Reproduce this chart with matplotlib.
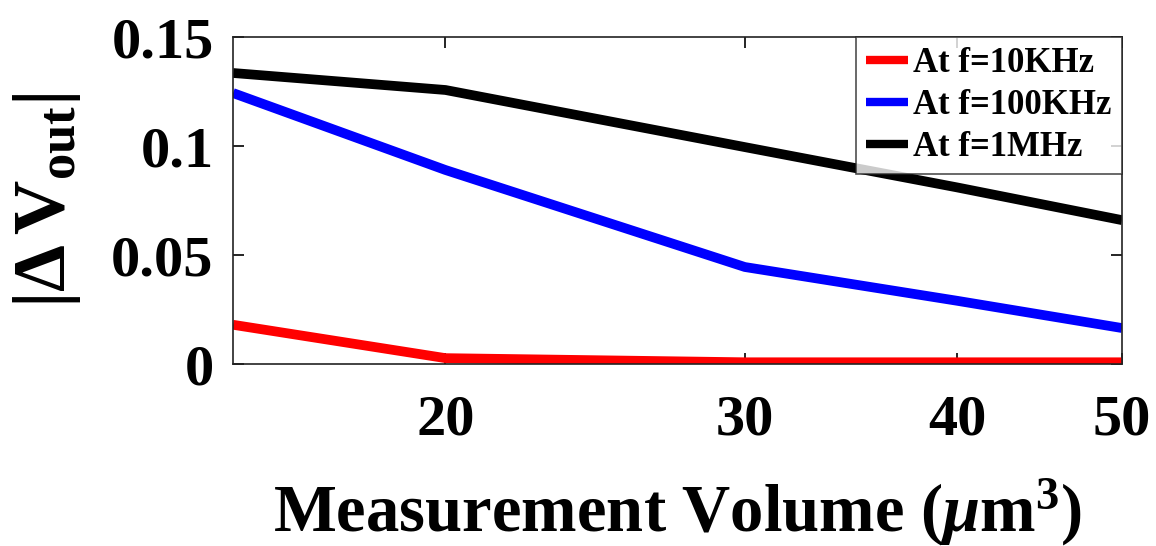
import numpy as np
import matplotlib
matplotlib.use("Agg")
import matplotlib.pyplot as plt
from matplotlib.ticker import FixedLocator, FixedFormatter, NullLocator

plt.rcParams['font.family'] = ['Liberation Serif', 'DejaVu Serif']
plt.rcParams['font.weight'] = 'bold'
plt.rcParams['axes.labelweight'] = 'bold'
plt.rcParams['mathtext.fontset'] = 'custom'
plt.rcParams['mathtext.rm'] = 'Liberation Serif:bold'
plt.rcParams['mathtext.it'] = 'Liberation Serif:italic:bold'
plt.rcParams['mathtext.bf'] = 'Liberation Serif:bold'

# data
volume = [15, 20, 30, 40, 50]
dv_10k = [0.018, 0.0027, 0.0008, 0.0008, 0.0008]
dv_100k = [0.1243, 0.089, 0.0445, 0.029, 0.0165]
dv_1m = [0.1335, 0.1257, 0.0995, 0.081, 0.066]
labels = ["At f=10KHz", "At f=100KHz", "At f=1MHz"]
colors = ["#ff0000", "#0000ff", "#000000"]

xticks = [20, 30, 40, 50]
yticks = [0, 0.05, 0.1, 0.15]
yticklabels = ["0", "0.05", "0.1", "0.15"]

fig = plt.figure(figsize=(11.56, 5.46), dpi=100)
ax = fig.add_axes([0.2016, 0.3333, 0.769, 0.5989])

for ys, lab, c in zip([dv_10k, dv_100k, dv_1m], labels, colors):
    ax.plot(volume, ys, color=c, lw=7, label=lab, solid_capstyle='butt')

ax.set_xscale('log')
ax.set_xlim(15, 50)
ax.set_ylim(0, 0.15)
ax.xaxis.set_major_locator(FixedLocator(xticks))
ax.xaxis.set_major_formatter(FixedFormatter([str(t) for t in xticks]))
ax.xaxis.set_minor_locator(NullLocator())
ax.set_yticks(yticks)
ax.set_yticklabels(yticklabels)

ax.tick_params(axis='both', direction='in', length=8, width=1.2,
               top=True, right=True, labelsize=42)
ax.tick_params(axis='x', pad=22)
ax.tick_params(axis='y', pad=14)
for s in ax.spines.values():
    s.set_linewidth(1.2)
    s.set_color('#222222')

ax.set_xlabel(r'Measurement Volume ($\mu$m$^3$)', fontsize=48,
              fontweight='bold', labelpad=22)
ax.set_ylabel(r'$|\Delta\,\mathrm{V}_{\mathrm{out}}|$', fontsize=54, labelpad=20)

leg = ax.legend(loc='upper right', fontsize=25, frameon=True, fancybox=False,
                edgecolor='#222222', handlelength=1.2, handletextpad=0.15,
                borderpad=0.3, labelspacing=0.25, borderaxespad=0.0)
leg.get_frame().set_linewidth(1.2)
for h in leg.get_lines():
    h.set_linewidth(6)

fig.savefig("out.png", dpi=100)
